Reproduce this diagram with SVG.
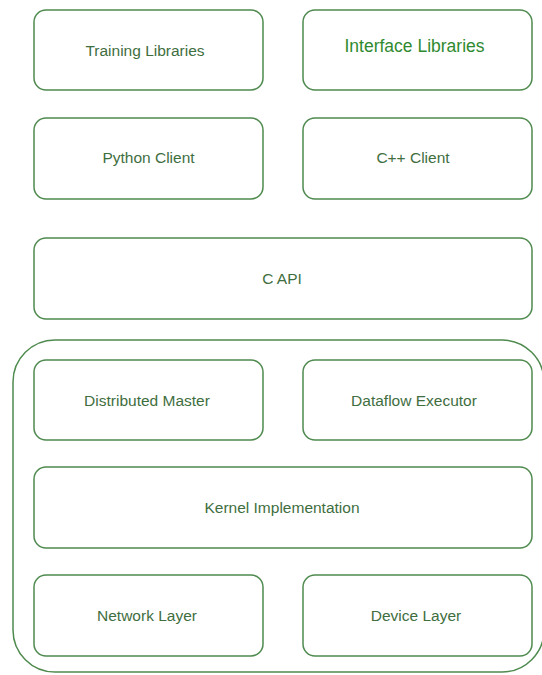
<svg xmlns="http://www.w3.org/2000/svg" width="542" height="675" viewBox="0 0 542 675">
<style>
.box{fill:#ffffff;stroke:#4f8a4f;stroke-width:1.5}
.outer{fill:none;stroke:#4f8a4f;stroke-width:1.5}
.lbl{font-family:"Liberation Sans",Arial,sans-serif;font-size:15.5px;fill:#3f6e3f;text-anchor:middle;dominant-baseline:central}
.lbl2{font-family:"Liberation Sans",Arial,sans-serif;font-size:17.5px;fill:#2f8a2f;text-anchor:middle;dominant-baseline:central}
</style>
<rect width="542" height="675" fill="#ffffff"/>
<g id="core">
<rect class="outer" x="13" y="340" width="531" height="332" rx="42" ry="42"/>
</g>
<g id="training-libraries"><rect class="box" x="34" y="10" width="229" height="80" rx="12"/><text class="lbl" x="145" y="50">Training Libraries</text></g>
<g id="interface-libraries"><rect class="box" x="303" y="10" width="229" height="80" rx="12"/><text class="lbl2" x="414.5" y="46">Interface Libraries</text></g>
<g id="python-client"><rect class="box" x="34" y="118" width="229" height="81" rx="12"/><text class="lbl" x="148.5" y="157">Python Client</text></g>
<g id="cpp-client"><rect class="box" x="303" y="118" width="229" height="81" rx="12"/><text class="lbl" x="413" y="157">C++ Client</text></g>
<g id="c-api"><rect class="box" x="34" y="238" width="498" height="81" rx="12"/><text class="lbl" x="282" y="278">C API</text></g>
<g id="distributed-master"><rect class="box" x="34" y="360" width="229" height="80" rx="12"/><text class="lbl" x="147" y="400">Distributed Master</text></g>
<g id="dataflow-executor"><rect class="box" x="303" y="360" width="229" height="80" rx="12"/><text class="lbl" x="414" y="400">Dataflow Executor</text></g>
<g id="kernel-implementation"><rect class="box" x="34" y="467" width="498" height="81" rx="12"/><text class="lbl" x="282" y="507">Kernel Implementation</text></g>
<g id="network-layer"><rect class="box" x="34" y="575" width="229" height="81" rx="12"/><text class="lbl" x="147" y="615">Network Layer</text></g>
<g id="device-layer"><rect class="box" x="303" y="575" width="229" height="81" rx="12"/><text class="lbl" x="416" y="615">Device Layer</text></g>
<g id="connectors"></g>
</svg>
